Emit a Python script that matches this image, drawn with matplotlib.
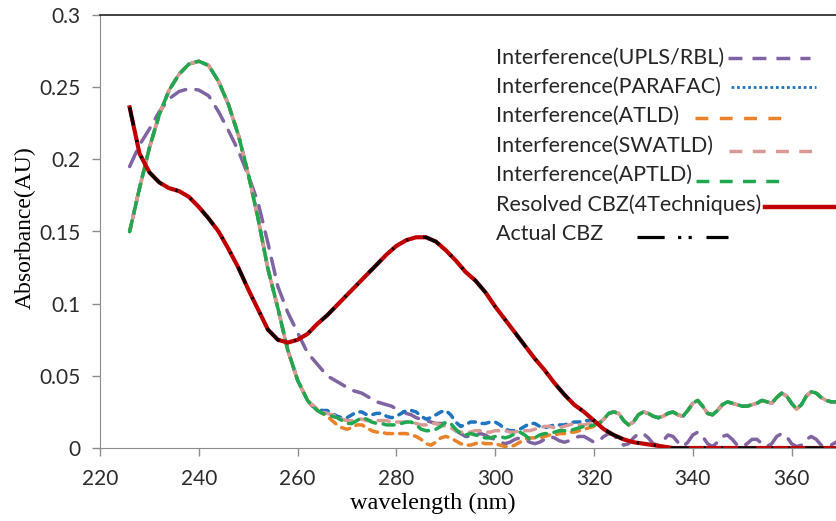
import matplotlib.pyplot as plt
from matplotlib.lines import Line2D
import numpy as np

plt.rcParams['font.family'] = ['Lato', 'DejaVu Sans']

# x grids: coarse for the smooth peak part, 1 nm for the noisy tail
wl_cbz = np.arange(226, 371, 2)
wl_peak = np.arange(226, 263, 2)
wl_tail = np.arange(263, 321)
wl_late = np.arange(321, 371)

# Actual / resolved CBZ (identical)
cbz = [0.236, 0.204, 0.191, 0.184, 0.180, 0.178, 0.174, 0.167, 0.159, 0.150,
       0.138, 0.125, 0.110, 0.096, 0.082, 0.075, 0.073, 0.075, 0.079, 0.086,
       0.092, 0.099, 0.106, 0.113, 0.120, 0.127, 0.134, 0.140, 0.144, 0.146,
       0.146, 0.143, 0.137, 0.130, 0.122, 0.116, 0.108, 0.098, 0.089, 0.080,
       0.071, 0.062, 0.054, 0.045, 0.037, 0.030, 0.025, 0.019, 0.013, 0.009,
       0.006, 0.004, 0.003, 0.002, 0.001, 0, 0, 0, 0, 0,
       0, 0, 0, 0, 0, 0, 0, 0, 0, 0,
       0, 0, 0]

# interference spectrum peak shared by PARAFAC / ATLD / SWATLD / APTLD
interf_peak = [0.150, 0.180, 0.208, 0.231, 0.248, 0.259, 0.266, 0.268, 0.265, 0.254,
               0.238, 0.217, 0.190, 0.159, 0.124, 0.097, 0.068, 0.047, 0.033]

# UPLS/RBL peak
upls_peak = [0.195, 0.210, 0.221, 0.233, 0.242, 0.247, 0.249, 0.248, 0.244, 0.233,
             0.220, 0.206, 0.189, 0.170, 0.142, 0.112, 0.094, 0.080, 0.066]

upls_tail = [0.062, 0.058, 0.054, 0.050, 0.048, 0.046, 0.044, 0.042, 0.040, 0.039,
             0.038, 0.036, 0.034, 0.032, 0.031, 0.030, 0.029, 0.027, 0.026, 0.024,
             0.023, 0.021, 0.020, 0.019, 0.018, 0.017, 0.017, 0.017, 0.015, 0.012,
             0.010, 0.008, 0.008, 0.009, 0.010, 0.009, 0.007, 0.006, 0.004, 0.003,
             0.004, 0.006, 0.007, 0.006, 0.004, 0.003, 0.004, 0.006, 0.008, 0.007,
             0.005, 0.004, 0.005, 0.007, 0.008, 0.008, 0.006, 0.004]
upls_late = [0.005, 0.008, 0.010, 0.009, 0.005, 0.002, 0.003, 0.007, 0.010, 0.010,
             0.007, 0.003, 0.002, 0.005, 0.009, 0.008, 0.004, 0.001, 0.004, 0.009,
             0.011, 0.008, 0.003, 0.001, 0.004, 0.008, 0.009, 0.006, 0.002, 0.001,
             0.003, 0.006, 0.006, 0.003, 0.001, 0.003, 0.008, 0.010, 0.008, 0.003,
             0.001, 0.002, 0.006, 0.008, 0.006, 0.002, 0.001, 0.002, 0.004, 0.006]

parafac_tail = [0.029, 0.027, 0.026, 0.026, 0.024, 0.022, 0.021, 0.021, 0.023, 0.025,
                0.025, 0.023, 0.023, 0.024, 0.024, 0.022, 0.021, 0.022, 0.024, 0.026,
                0.026, 0.025, 0.022, 0.020, 0.021, 0.023, 0.025, 0.026, 0.023, 0.018,
                0.015, 0.016, 0.018, 0.018, 0.017, 0.017, 0.018, 0.018, 0.016, 0.013,
                0.012, 0.012, 0.013, 0.015, 0.017, 0.017, 0.015, 0.014, 0.015, 0.016,
                0.016, 0.016, 0.017, 0.018, 0.018, 0.019, 0.019, 0.019]

atld_tail = [0.029, 0.026, 0.024, 0.022, 0.019, 0.016, 0.014, 0.013, 0.014, 0.016,
             0.016, 0.014, 0.012, 0.011, 0.011, 0.010, 0.010, 0.010, 0.010, 0.010,
             0.009, 0.008, 0.006, 0.003, 0.002, 0.004, 0.007, 0.008, 0.007, 0.005,
             0.003, 0.002, 0.002, 0.003, 0.004, 0.003, 0.003, 0.003, 0.002, 0.001,
             0.001, 0.002, 0.004, 0.006, 0.007, 0.007, 0.007, 0.008, 0.009, 0.009,
             0.010, 0.010, 0.011, 0.011, 0.012, 0.013, 0.014, 0.015]

swatld_tail = [0.030, 0.027, 0.025, 0.024, 0.023, 0.022, 0.020, 0.019, 0.019, 0.020,
               0.020, 0.019, 0.019, 0.019, 0.019, 0.019, 0.018, 0.018, 0.018, 0.018,
               0.018, 0.017, 0.016, 0.016, 0.017, 0.017, 0.016, 0.015, 0.014, 0.012,
               0.011, 0.011, 0.011, 0.012, 0.012, 0.011, 0.011, 0.012, 0.012, 0.012,
               0.011, 0.011, 0.012, 0.012, 0.012, 0.013, 0.014, 0.015, 0.015, 0.014,
               0.014, 0.015, 0.016, 0.017, 0.016, 0.016, 0.017, 0.018]

aptld_tail = [0.029, 0.026, 0.024, 0.023, 0.022, 0.021, 0.019, 0.017, 0.017, 0.019,
              0.021, 0.020, 0.018, 0.017, 0.017, 0.016, 0.016, 0.016, 0.017, 0.018,
              0.018, 0.016, 0.013, 0.012, 0.012, 0.013, 0.015, 0.018, 0.017, 0.013,
              0.010, 0.009, 0.010, 0.009, 0.008, 0.007, 0.007, 0.008, 0.008, 0.007,
              0.008, 0.010, 0.011, 0.009, 0.006, 0.007, 0.009, 0.010, 0.010, 0.011,
              0.012, 0.012, 0.012, 0.013, 0.014, 0.015, 0.015, 0.016]

# above ~320 nm the four interference estimates coincide
interf_late = [0.017, 0.020, 0.024, 0.025, 0.024, 0.019, 0.016, 0.018, 0.023, 0.025,
               0.024, 0.022, 0.021, 0.022, 0.024, 0.025, 0.023, 0.022, 0.026, 0.031,
               0.033, 0.029, 0.024, 0.023, 0.026, 0.030, 0.032, 0.031, 0.030, 0.029,
               0.029, 0.030, 0.031, 0.033, 0.032, 0.031, 0.035, 0.038, 0.036, 0.031,
               0.027, 0.030, 0.036, 0.039, 0.038, 0.035, 0.033, 0.032, 0.032, 0.032]

labels = ['Interference(UPLS/RBL)', 'Interference(PARAFAC)', 'Interference(ATLD)',
          'Interference(SWATLD)', 'Interference(APTLD)', 'Resolved CBZ(4Techniques)',
          'Actual CBZ']

c_upls, c_para, c_atld, c_swat, c_apt = '#8064A2', '#1F74C0', '#E9822B', '#D99A96', '#1FA84F'
c_res = '#C00000'

x_int = np.concatenate([wl_peak, wl_tail, wl_late])

W, H = 836, 521
fig = plt.figure(figsize=(W / 100, H / 100), dpi=100)
ax = fig.add_axes([100 / W, 1 - 448 / H, 736 / W, 433 / H])

lw = 2.5
ax.plot(x_int, upls_peak + upls_tail + upls_late, color=c_upls, lw=lw,
        dashes=(4.8, 3.0), dash_capstyle='round')
ax.plot(x_int, interf_peak + parafac_tail + interf_late, color=c_para, lw=lw,
        dashes=(2.0, 2.0), dash_capstyle='round')
ax.plot(x_int, interf_peak + atld_tail + interf_late, color=c_atld, lw=lw,
        dashes=(2.4, 2.0), dash_capstyle='round')
ax.plot(x_int, interf_peak + swatld_tail + interf_late, color=c_swat, lw=lw,
        linestyle=(2.6, (3.2, 2.2)), dash_capstyle='round')
ax.plot(x_int, interf_peak + aptld_tail + interf_late, color=c_apt, lw=lw,
        dashes=(3.2, 2.2), dash_capstyle='round')
ax.plot(wl_cbz, cbz, color=c_res, lw=3.0)
ax.plot(wl_cbz, cbz, color='black', lw=2.4, dashes=(5.5, 4.5, 0.6, 4.5, 0.6, 4.5))

ax.set_xlim(220, 369)
ax.set_ylim(0, 0.3)
ax.set_xticks(np.arange(220, 361, 20))
ax.set_yticks([0, 0.05, 0.1, 0.15, 0.2, 0.25, 0.3])
ax.set_yticklabels(['0', '0.05', '0.1', '0.15', '0.2', '0.25', '0.3'])
ax.tick_params(axis='both', colors='#8c8c8c', labelcolor='#2b2b2b',
               labelsize=15, length=6, width=1)
ax.tick_params(axis='x', pad=9)
ax.tick_params(axis='y', pad=8)

ax.spines['right'].set_visible(False)
ax.spines['top'].set_color('#222222')
ax.spines['top'].set_linewidth(1.2)
ax.spines['left'].set_color('#8c8c8c')
ax.spines['bottom'].set_color('#8c8c8c')

ax.set_xlabel('wavelength (nm)', family='Liberation Serif', fontsize=17.5)
ax.set_ylabel('Absorbance(AU)', family='Liberation Serif', fontsize=17)
ax.xaxis.set_label_coords(0.452, -0.104)
ax.yaxis.set_label_coords(-0.087, 0.508)

# legend: text first, line sample right after it (rows laid out in pixels)
handle_styles = [
    dict(color=c_upls, lw=2.5, dashes=(4.0, 2.9)),
    dict(color=c_para, lw=2.0, dashes=(1.0, 1.0)),
    dict(color=c_atld, lw=2.5, dashes=(3.7, 3.3)),
    dict(color=c_swat, lw=2.5, dashes=(3.7, 3.0)),
    dict(color=c_apt, lw=2.5, dashes=(3.7, 3.0)),
    dict(color=c_res, lw=3.2),
    dict(color='black', lw=2.3, dashes=(8.5, 4.2, 1.0, 2.3, 1.0, 4.6)),
]
gaps = [4, 10, 16, 16, 4, 4, 34]
lengths = [82, 85, 92, 85, 86, 80, 91]
drops = [0, 0, 2, 5, 6, 2, 3]

texts = []
for i, lab in enumerate(labels):
    yc = 57.5 + 29.4 * i
    t = fig.text(496 / W, 1 - yc / H, lab, fontsize=15.5, color='#262626',
                 ha='left', va='center')
    texts.append((t, yc))

fig.canvas.draw()
renderer = fig.canvas.get_renderer()
for (t, yc), st, g, L, d in zip(texts, handle_styles, gaps, lengths, drops):
    x0 = t.get_window_extent(renderer).x1 + g
    yy = 1 - (yc + d) / H
    fig.add_artist(Line2D([x0 / W, (x0 + L) / W], [yy, yy],
                          transform=fig.transFigure, **st))

fig.savefig('out.png', dpi=100)
